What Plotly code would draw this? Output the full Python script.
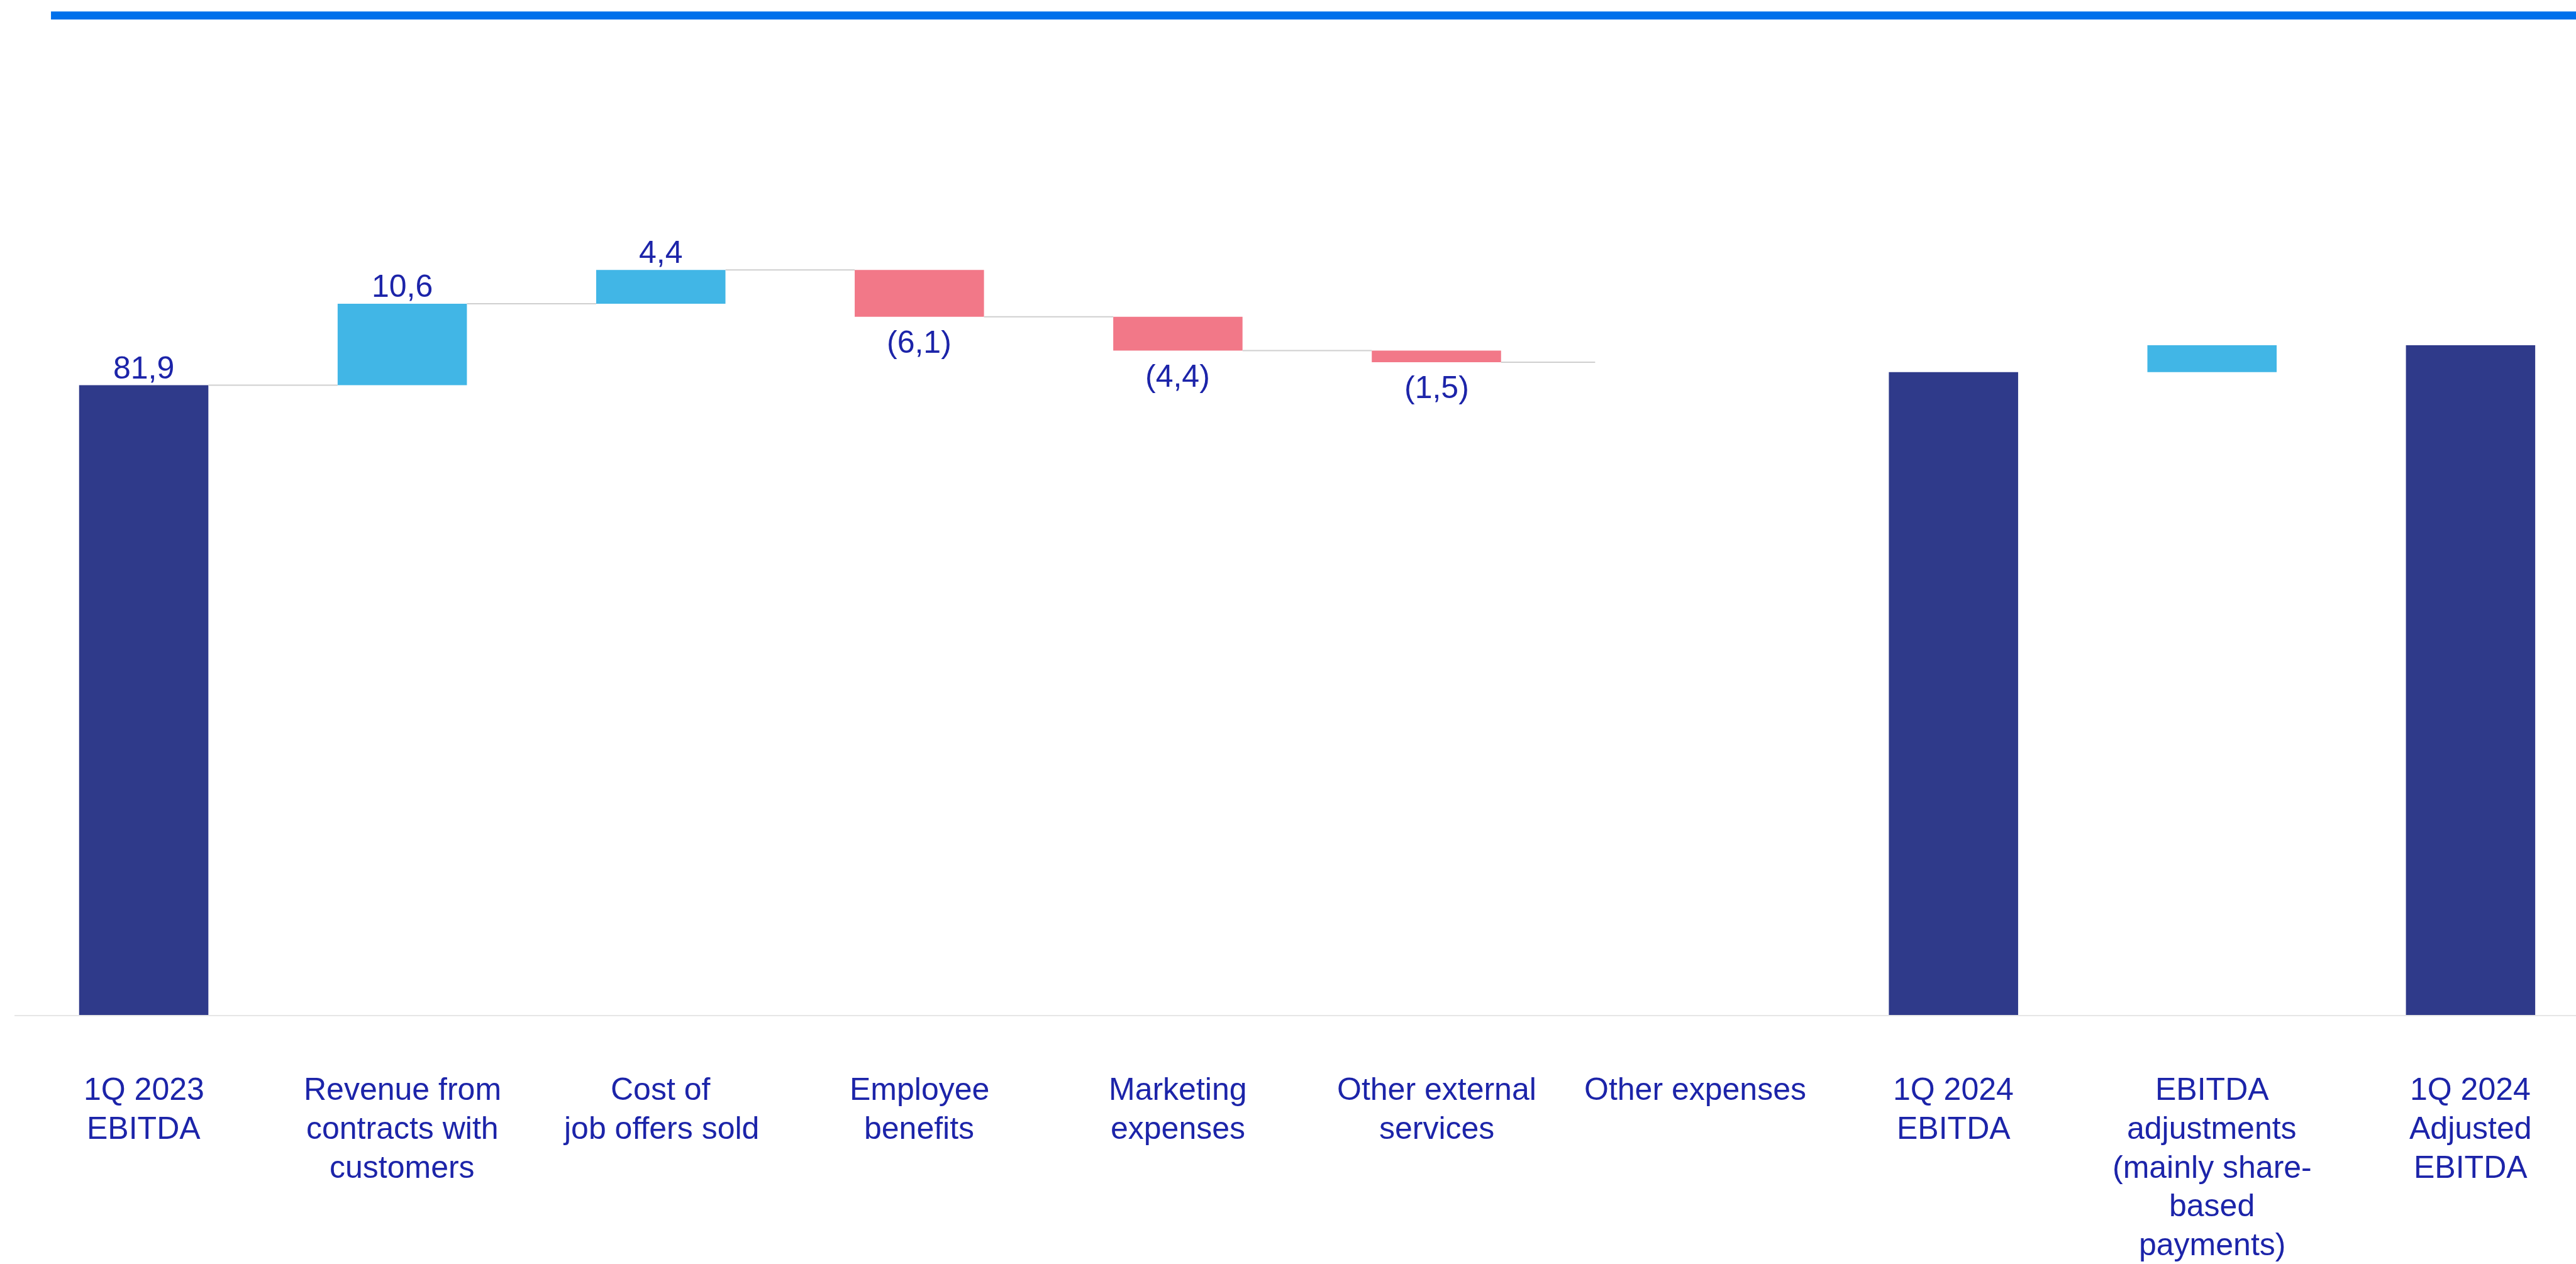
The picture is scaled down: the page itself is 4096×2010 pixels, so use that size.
import plotly.graph_objects as go

# ---------------- data ----------------
categories = [
    "1Q 2023<br>EBITDA",
    "Revenue from<br>contracts with<br>customers",
    "Cost of<br>job offers sold",
    "Employee<br>benefits",
    "Marketing<br>expenses",
    "Other external<br>services",
    "Other expenses",
    "1Q 2024<br>EBITDA",
    "EBITDA<br>adjustments<br>(mainly share-<br>based<br>payments)",
    "1Q 2024<br>Adjusted<br>EBITDA",
]
values = [81.9, 10.6, 4.4, -6.1, -4.4, -1.5, None, 83.6, 3.5, 87.1]
kinds = ["total", "delta", "delta", "delta", "delta", "delta", "none", "total", "delta", "total"]
value_labels = ["81,9", "10,6", "4,4", "(6,1)", "(4,4)", "(1,5)", "", "", "", ""]

# ---------------- style ----------------
S = 0.965
W, H = 4096, 2010
C_TOTAL = "#2F3A8A"
C_POS = "#41B6E6"
C_NEG = "#F27888"
C_TEXT = "#1C24A9"
C_CONN = "#CFCFCF"
C_AXIS = "#E6E6E6"
C_TOP = "#0070EB"
FONT = "Liberation Sans, Arial, sans-serif"
FS = 50
PITCH = 64 * S        # line pitch of category labels
TOP_OFF = 88          # gap from axis line to top of first label line

axis_y = 1673 * S
unit_px = 12.674 * S
spacing = 426 * S
ml, mr = 23, 0
mt = 100
mb = H - axis_y
plot_w = W - ml - mr
plot_h = H - mt - mb
x_range = [-0.5, -0.5 + plot_w / spacing]
y_range = [0, plot_h / unit_px]

# ---------------- compute bases ----------------
bases, heights, colors, ends = [], [], [], []
running = 0.0
for v, k in zip(values, kinds):
    if k == "total":
        bases.append(0)
        heights.append(v)
        colors.append(C_TOTAL)
        running = v
        ends.append(v)
    elif k == "delta":
        bases.append(running)
        heights.append(v)
        colors.append(C_POS if v >= 0 else C_NEG)
        running += v
        ends.append(running)
    else:
        bases.append(0)
        heights.append(0)
        colors.append("rgba(0,0,0,0)")
        ends.append(running)

xs = list(range(len(categories)))

fig = go.Figure()

# connectors (first section only, as in the reference)
conn_x, conn_y = [], []
for i in range(0, 5):
    conn_x += [i + 0.25, i + 0.75, None]
    conn_y += [ends[i], ends[i], None]
conn_x += [5.25, 5.614, None]
conn_y += [ends[5], ends[5], None]
fig.add_trace(go.Scatter(x=conn_x, y=conn_y, mode="lines",
                         line=dict(color=C_CONN, width=2), hoverinfo="skip",
                         showlegend=False))

fig.add_trace(go.Bar(
    x=xs, y=heights, base=bases, width=0.5,
    marker=dict(color=colors, line=dict(width=0)),
    showlegend=False,
))

annotations = []
for i, (t, v, b) in enumerate(zip(value_labels, heights, bases)):
    if not t:
        continue
    if v >= 0:
        annotations.append(dict(x=i, y=b + v, text=t, showarrow=False,
                                yanchor="bottom", xanchor="center", yshift=-2,
                                font=dict(family=FONT, size=FS, color=C_TEXT)))
    else:
        annotations.append(dict(x=i, y=b + v, text=t, showarrow=False,
                                yanchor="top", xanchor="center", yshift=-10,
                                font=dict(family=FONT, size=FS, color=C_TEXT)))

# category labels (one annotation per line for tighter line pitch)
for i, cat in enumerate(categories):
    for k, line in enumerate(cat.split("<br>")):
        annotations.append(dict(x=i, y=0, xref="x", yref="y", text=line,
                                showarrow=False, xanchor="center", yanchor="top",
                                yshift=-(TOP_OFF + k * PITCH),
                                font=dict(family=FONT, size=FS, color=C_TEXT)))

# top blue rule
top_y0_px, top_y1_px = 19 * S, 32 * S
shapes = [dict(type="rect", xref="paper", yref="paper",
               x0=(84 * S - ml) / plot_w, x1=1.0,
               y0=(axis_y - top_y1_px) / plot_h, y1=(axis_y - top_y0_px) / plot_h,
               fillcolor=C_TOP, line=dict(width=0), layer="above")]

fig.update_layout(
    width=W, height=H,
    margin=dict(l=ml, r=mr, t=mt, b=mb, pad=0, autoexpand=False),
    paper_bgcolor="white", plot_bgcolor="white",
    font=dict(family=FONT, size=FS, color=C_TEXT),
    annotations=annotations, shapes=shapes,
    bargap=0.5,
)
fig.update_xaxes(
    range=x_range, tickmode="array", tickvals=xs, ticktext=[""] * len(xs),
    showticklabels=False,
    showgrid=False, zeroline=False, showline=True, linecolor=C_AXIS, linewidth=2,
    ticks="", automargin=False, fixedrange=True,
)
fig.update_yaxes(range=y_range, visible=False, showgrid=False, zeroline=False,
                 fixedrange=True, automargin=False)

fig.write_html("out.html", config={"displayModeBar": False})
